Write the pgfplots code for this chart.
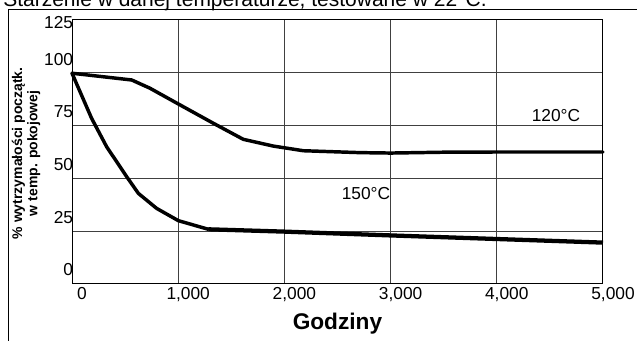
\documentclass[border=0pt]{standalone}
\usepackage{pgfplots}
\pgfplotsset{compat=1.18}
\usepackage{fontspec}
\setmainfont{Liberation Sans}
\begin{document}
\begin{tikzpicture}
\path[use as bounding box] (0pt,0pt) rectangle (477.75pt,255pt);
\clip (0pt,0pt) rectangle (477.75pt,255pt);
% frame and cut-off title
\draw[black, line width=0.75pt] (6pt,-8pt) -- (6pt,247.5pt) -- (495pt,247.5pt);
\node[anchor=base west, inner sep=0pt, font=\fontsize{15.75}{18}\selectfont] at (2.25pt,249.75pt) {Starzenie w danej temperaturze, testowane w 22°C.};
\node[rotate=90, align=center, inner sep=0pt, font=\fontsize{10.5}{11.5}\selectfont\bfseries] at (19.5pt,140pt) {\% wytrzymałości początk.\\w temp. pokojowej};
\node[anchor=base, inner sep=0pt, font=\fontsize{17}{20}\selectfont\bfseries] at (253.1pt,8pt) {Godziny};
\begin{axis}[
  at={(54pt,42pt)}, anchor=south west,
  scale only axis, width=398.25pt, height=198pt,
  xmin=0, xmax=5000, ymin=0, ymax=125,
  xtick={0,1000,2000,3000,4000,5000},
  xticklabels={0,{1,000},{2,000},{3,000},{4,000},{5,000}},
  ytick={0,25,50,75,100,125},
  yticklabels={},
  extra y ticks={7,31.4,56.4,81.4,106.4,123.6},
  extra y tick labels={0,25,50,75,100,125},
  extra y tick style={grid=none, major tick length=0pt},
  major tick length=0pt,
  grid=major,
  major grid style={black!75, line width=0.75pt},
  axis line style={black, line width=0.75pt},
  tick label style={font=\fontsize{13}{15}\selectfont},
  /pgf/number format/assume math mode=true,
  xticklabel style={anchor=north, inner sep=0pt, yshift=-2pt, xshift=7.5pt},
  yticklabel style={anchor=east, inner sep=0pt, xshift=1pt},
  clip=false,
]
\addplot[black, line width=2.6pt, line join=round, line cap=round] coordinates {
(0,99.8) (562,96.6) (734,92.7) (1017,84.8) (1331,76.1) (1613,68.5) (1896,65.3) (2178,63.1) (2712,62.2) (3000,62.0) (3500,62.4) (4000,62.5) (5000,62.5)};
\addplot[black, line width=2.6pt, line join=round, line cap=round] coordinates {
(0,99.8) (185,78.4) (326,65) (515,50.8) (625,42.9) (797,35.8) (1001,30) (1284,25.9)};
\addplot[black, line width=3.2pt, line join=round] coordinates {
(1284,25.9) (2000,24.8) (3000,23) (4000,21.3) (5000,19.6)};
\node[font=\fontsize{13}{15}\selectfont] at (axis cs:4557,80) {120°C};
\node[font=\fontsize{13}{15}\selectfont] at (axis cs:2768,43) {150°C};
\end{axis}
\end{tikzpicture}
\end{document}
